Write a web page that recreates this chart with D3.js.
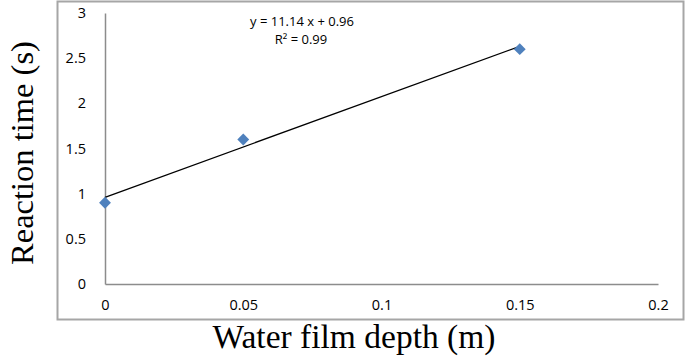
<!DOCTYPE html>
<html>
<head>
<meta charset="utf-8">
<script src="https://cdn.jsdelivr.net/npm/d3@7"></script>
<style>
  body { margin: 0; background: #fff; }
  svg { display: block; }
</style>
</head>
<body>
<div id="chart"></div>
<script>
// data
const depth = [0, 0.05, 0.15];
const reactionTime = [0.9, 1.6, 2.6];
const xTicks = [0, 0.05, 0.1, 0.15, 0.2];
const yTicks = [0, 0.5, 1, 1.5, 2, 2.5, 3];
const trendSlope = 11.14, trendIntercept = 0.96;
const eqLines = ["y = 11.14 x + 0.96", "R² = 0.99"];

const width = 685, height = 359;
const margin = { top: 13, right: 27, bottom: 75, left: 105 };

const svg = d3.select("#chart").append("svg")
    .attr("width", width)
    .attr("height", height);

// outer chart frame
svg.append("rect")
    .attr("x", 57.5).attr("y", 1.5)
    .attr("width", 626).attr("height", 318)
    .attr("fill", "none")
    .attr("stroke", "#a6a6a6")
    .attr("stroke-width", 2);

const x = d3.scaleLinear()
    .domain([0, 0.2])
    .range([margin.left, width - margin.right]);

const y = d3.scaleLinear()
    .domain([0, 3])
    .range([height - margin.bottom, margin.top]);

// x axis
const xAxis = svg.append("g")
    .attr("transform", `translate(0,${y(0)})`)
    .call(d3.axisBottom(x).tickValues(xTicks).tickSize(0).tickPadding(16)
        .tickFormat(d => d3.format("")(d)));
xAxis.select(".domain").attr("stroke", "#8c8c8c").attr("stroke-width", 1.5);
xAxis.selectAll("text")
    .attr("font-family", "'Open Sans', sans-serif")
    .attr("font-size", 14.5)
    .attr("fill", "#000");

// y axis
const yAxis = svg.append("g")
    .attr("transform", `translate(${x(0)},0)`)
    .call(d3.axisLeft(y).tickValues(yTicks).tickSize(0).tickPadding(19)
        .tickFormat(d => d3.format("")(d)));
yAxis.select(".domain").attr("stroke", "#8c8c8c").attr("stroke-width", 1.5);
yAxis.selectAll("text")
    .attr("font-family", "'Open Sans', sans-serif")
    .attr("font-size", 14.5)
    .attr("fill", "#000");

// trend line
svg.append("line")
    .attr("x1", x(0)).attr("y1", y(trendIntercept))
    .attr("x2", x(depth[depth.length - 1]))
    .attr("y2", y(trendSlope * depth[depth.length - 1] + trendIntercept))
    .attr("stroke", "#000")
    .attr("stroke-width", 1.3);

// points
svg.selectAll(".pt")
    .data(depth.map((d, i) => [d, reactionTime[i]]))
    .join("path")
    .attr("class", "pt")
    .attr("d", d3.symbol(d3.symbolDiamond2, 90))
    .attr("transform", d => `translate(${x(d[0])},${y(d[1])})`)
    .attr("fill", "#4f81bd");

// equation
svg.append("text")
    .attr("x", 302).attr("y", 26)
    .attr("text-anchor", "middle")
    .attr("font-family", "'Open Sans', sans-serif")
    .attr("font-size", 13)
    .text(eqLines[0]);
svg.append("text")
    .attr("x", 301).attr("y", 44)
    .attr("text-anchor", "middle")
    .attr("font-family", "'Open Sans', sans-serif")
    .attr("font-size", 13)
    .text(eqLines[1]);

// axis titles
svg.append("text")
    .attr("x", 354).attr("y", 348)
    .attr("text-anchor", "middle")
    .attr("font-family", "'Liberation Serif', serif")
    .attr("font-size", 33.5)
    .text("Water film depth (m)");

svg.append("text")
    .attr("transform", "translate(33,153) rotate(-90)")
    .attr("text-anchor", "middle")
    .attr("font-family", "'Liberation Serif', serif")
    .attr("font-size", 32.5)
    .text("Reaction time (s)");
</script>
</body>
</html>
